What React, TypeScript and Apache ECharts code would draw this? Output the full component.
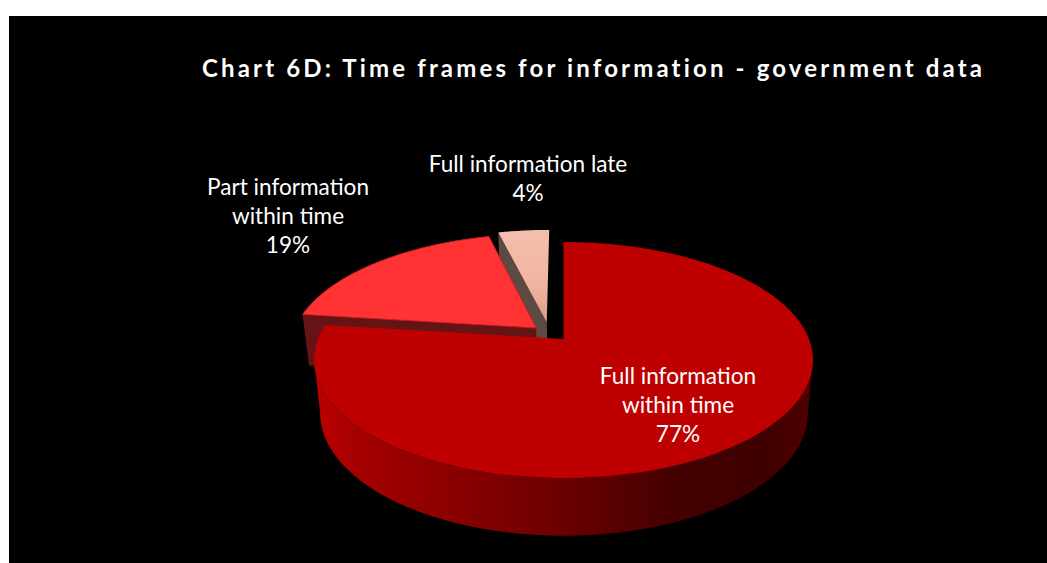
import React, { useEffect, useRef } from "react";
import * as echarts from "echarts";

const categories = ["Full information\nwithin time", "Part information\nwithin time", "Full information late"];
const shares = [77, 19, 4];
const titleText = "Chart 6D: Time frames for information - government data";

const topFill = ["#bf0000", "#ff3333", null];
const labelCentres = [[678, 361], [288, 172], [528, 149]];
const explode = [[0, 0], [-0.113, 0.098], [-0.07, 0.149]];
const persp = 0.178;
const topDisk = { cx: 563.5, cy: 339, r: 245.5, h: 114.3 };
const baseDisk = { cx: 564, cy: 391, r: 240, h: 119 };

const project = (disk: any, u: number, v: number) => {
  const s = 1 / (1 + persp * v);
  return [disk.cx + disk.r * u * s, disk.cy - disk.h * v * s];
};
const rim = (disk: any, deg: number, off: number[]) => {
  const a = (deg * Math.PI) / 180;
  return project(disk, Math.sin(a) + off[0], Math.cos(a) + off[1]);
};
const arc = (disk: any, from: number, to: number, off: number[]) => {
  const pts: number[][] = [];
  const steps = Math.max(2, Math.ceil(Math.abs(to - from) / 2));
  for (let i = 0; i <= steps; i++) pts.push(rim(disk, from + ((to - from) * i) / steps, off));
  return pts;
};

const renderItem = (params: any) => {
  const idx = params.dataIndex;
  const total = shares.reduce((a, b) => a + b, 0);
  const before = shares.slice(0, idx).reduce((a, b) => a + b, 0);
  const start = (before / total) * 360;
  const end = ((before + shares[idx]) / total) * 360;
  const off = explode[idx];
  const apex = project(topDisk, off[0], off[1]);
  const apexBase = project(baseDisk, off[0], off[1]);
  const z = (3 - idx) * 10;
  const children: any[] = [];

  if (idx === 0) {
    const wallFrom = 100;
    const wallTo = 260;
    children.push({
      type: "polygon",
      z2: z,
      shape: { points: [...arc(topDisk, wallFrom, wallTo, off), ...arc(baseDisk, wallTo, wallFrom, off)] },
      style: {
        fill: new echarts.graphic.LinearGradient(0, 0, 1, 0, [
          { offset: 0, color: "#bd0000" },
          { offset: 0.08, color: "#a60000" },
          { offset: 0.45, color: "#720000" },
          { offset: 0.72, color: "#450000" },
          { offset: 0.9, color: "#3f0000" },
          { offset: 1, color: "#500000" },
        ]),
      },
    });
  }
  if (idx === 1 || idx === 2) {
    const a = rim(topDisk, start, off);
    const b = rim(baseDisk, start, off);
    children.push({
      type: "polygon",
      z2: z,
      shape: { points: [a, apex, apexBase, b] },
      style: { fill: idx === 1 ? "#641414" : "#5d4a43" },
    });
  }
  const fill =
    topFill[idx] ||
    new echarts.graphic.LinearGradient(0, 0, 0, 1, [
      { offset: 0, color: "#f3bfad" },
      { offset: 0.6, color: "#f0b5a0" },
      { offset: 1, color: "#d89e8a" },
    ]);
  children.push({
    type: "polygon",
    z2: z + 1,
    shape: { points: [apex, ...arc(topDisk, start, end, off)] },
    style: { fill, stroke: idx === 1 ? "#c81e1e" : undefined, lineWidth: idx === 1 ? 1 : 0 },
  });
  const [lx, ly] = labelCentres[idx];
  children.push({
    type: "text",
    z2: 100,
    x: lx,
    y: ly,
    style: {
      text: `${categories[idx]}\n${shares[idx]}%`,
      fill: "#ffffff",
      font: "22.6px Lato",
      align: "center",
      verticalAlign: "top",
      lineHeight: 29,
    },
  });
  return { type: "group", children };
};

export default function App() {
  const ref = useRef<HTMLDivElement>(null);
  useEffect(() => {
    const chart = echarts.init(ref.current!, undefined, { renderer: "svg" });
    chart.setOption({
      animation: false,
      backgroundColor: "#ffffff",
      graphic: [{ type: "rect", z: -10, shape: { x: 9, y: 16, width: 1038, height: 547 }, style: { fill: "#000000" } }],
      title: {
        text: titleText,
        left: 197,
        top: 48,
        textStyle: { color: "#ffffff", fontFamily: "Lato", fontWeight: "bold", fontSize: 24, lineHeight: 28 },
      },
      series: [
        {
          type: "custom",
          coordinateSystem: "none",
          renderItem,
          data: shares,
          silent: true,
          clip: false,
        },
      ],
    });
    ref.current!.querySelectorAll("text").forEach((t) => {
      if ((t.textContent || "").startsWith("Chart 6D")) (t as any).style.letterSpacing = "3.15px";
    });
    return () => chart.dispose();
  }, []);
  return <div ref={ref} style={{ position: "absolute", left: 0, top: 0, width: 1047, height: 563 }} />;
}
